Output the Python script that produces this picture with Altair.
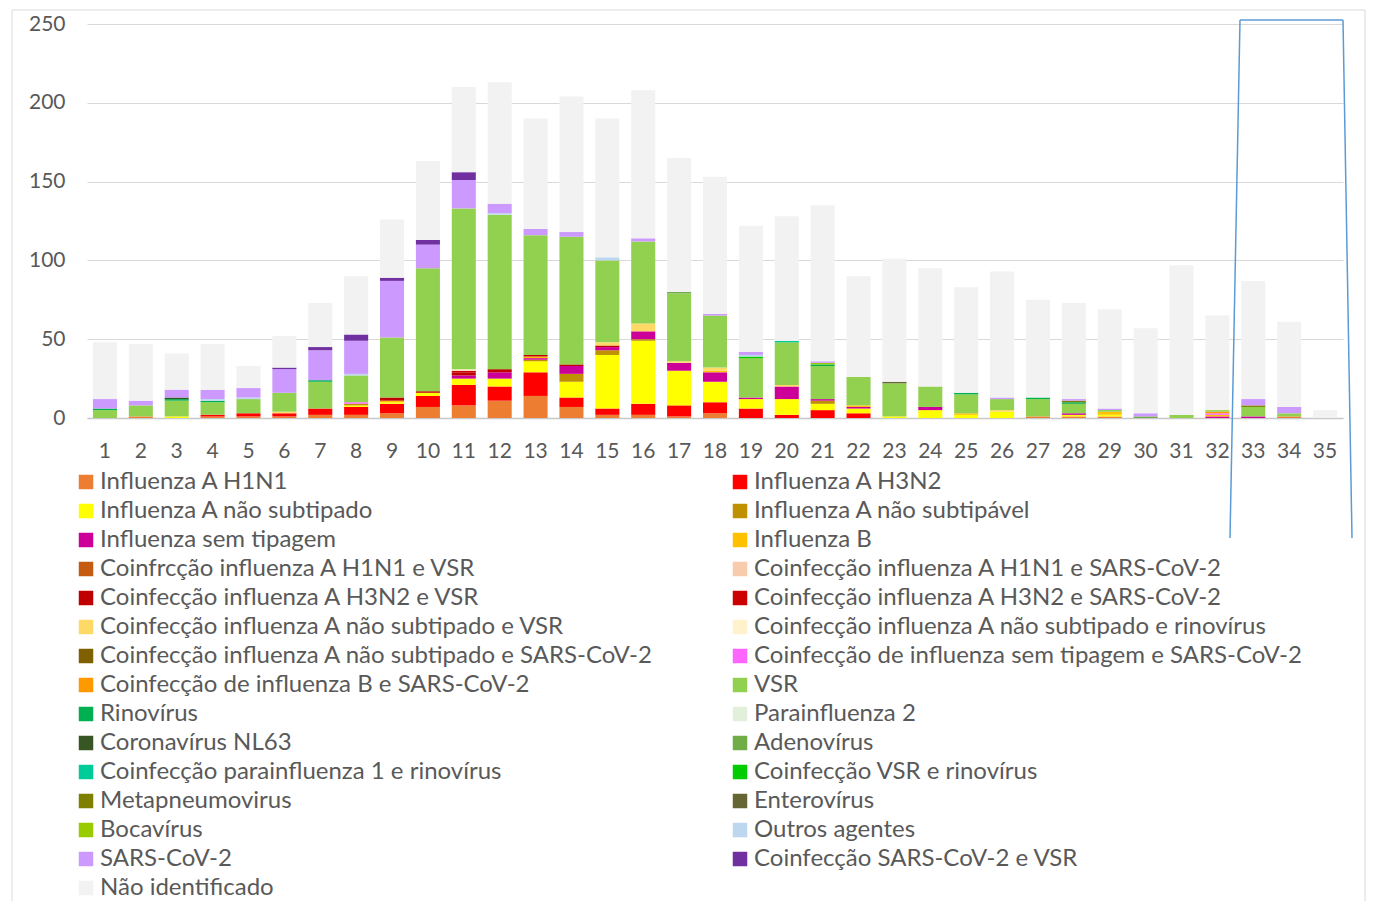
import altair as alt
import pandas as pd

weeks = [str(i) for i in range(1, 36)]

series_names = [
    "Influenza A H1N1",
    "Influenza A H3N2",
    "Influenza A não subtipado",
    "Influenza A não subtipável",
    "Influenza sem tipagem",
    "Influenza B",
    "Coinfrcção influenza A H1N1 e VSR",
    "Coinfecção influenza A H1N1 e SARS-CoV-2",
    "Coinfecção influenza A H3N2 e VSR",
    "Coinfecção influenza A H3N2 e SARS-CoV-2",
    "Coinfecção influenza A não subtipado e VSR",
    "Coinfecção influenza A não subtipado e rinovírus",
    "Coinfecção influenza A não subtipado e SARS-CoV-2",
    "Coinfecção de influenza sem tipagem e SARS-CoV-2",
    "Coinfecção de influenza B e SARS-CoV-2",
    "VSR",
    "Rinovírus",
    "Parainfluenza 2",
    "Coronavírus NL63",
    "Adenovírus",
    "Coinfecção parainfluenza 1 e rinovírus",
    "Coinfecção VSR e rinovírus",
    "Metapneumovirus",
    "Enterovírus",
    "Bocavírus",
    "Outros agentes",
    "SARS-CoV-2",
    "Coinfecção SARS-CoV-2 e VSR",
    "Não identificado",
]

series_colors = [
    "#ED7D31", "#FF0000", "#FFFF00", "#BF9000", "#CC0099", "#FFC000",
    "#C55A11", "#F8CBAD", "#C00000", "#CC0000", "#FFD966", "#FFF2CC",
    "#7F6000", "#FF66FF", "#FF9900", "#92D050", "#00B050", "#E2EFDA",
    "#375623", "#70AD47", "#00CC99", "#00CC00", "#808000", "#666633",
    "#99CC00", "#BDD7EE", "#CC99FF", "#7030A0", "#F2F2F2",
]

h1n1 =          [0,1,0,1,1,1,2,2,3,7,8,11,14,7,2,2,1,3,0,0,0,0,0,0,0,0,1,1,1,0,0,0,0,1,0]
h3n2 =          [0,0,0,1,2,2,4,5,6,7,13,9,15,6,4,7,7,7,6,2,5,3,0,0,0,0,0,0,0,0,0,0,0,0,0]
a_nao_sub =     [0,0,1,0,0,0,0,1,1,2,4,5,7,10,34,40,22,13,6,10,4,3,1,5,2,4,0,1,1,0,0,0,0,0,0]
a_nao_subtip =  [0,0,0,0,0,0,0,1,0,0,0,0,1,5,3,1,0,0,0,0,2,0,0,0,0,0,0,0,0,0,0,0,0,0,0]
sem_tipagem =   [0,0,0,0,0,0,0,0,0,0,2,4,1,5,2,5,5,6,1,8,1,1,0,2,0,0,0,1,0,0,0,1,1,0,0]
flu_b =         [0,0,0,0,0,0,0,0,1,0,0,0,1,0,0,0,0,1,0,0,0,1,0,0,1,0,0,0,2,0,0,1,0,0,0]
co_h1n1_vsr =   [0]*35
co_h1n1_sars =  [0]*35
co_h3n2_vsr =   [0,0,0,0,0,0,0,0,2,1,2,2,1,1,1,0,0,0,0,0,0,0,0,0,0,0,0,0,0,0,0,0,0,0,0]
co_h3n2_sars =  [0,0,0,0,0,0,0,0,0,0,1,0,0,0,0,0,0,0,0,0,0,0,0,0,0,0,0,0,0,0,0,0,0,0,0]
co_ns_vsr =     [0,0,0,0,0,1,0,0,0,0,0,0,0,0,2,5,1,2,0,1,0,0,0,0,0,1,0,0,0,0,0,0,0,0,0]
co_ns_rino =    [0,0,0,0,0,0,0,0,0,0,1,0,0,0,0,0,0,0,0,0,0,0,0,0,0,0,0,0,0,0,0,0,0,0,0]
co_ns_sars =    [0]*35
co_st_sars =    [0,0,0,0,0,0,0,1,0,0,0,0,0,0,0,0,0,0,0,0,0,0,0,0,0,0,0,0,0,0,0,1,0,0,0]
co_b_sars =     [0,0,0,0,0,0,0,0,0,0,0,0,0,0,0,0,0,0,0,0,0,0,0,0,0,0,0,0,0,0,0,1,0,0,0]
vsr =           [5,7,10,8,9,12,17,17,38,78,102,98,76,81,52,52,43,33,25,27,21,18,21,13,12,7,11,6,1,0,2,1,6,2,0]
rino =          [1,0,1,1,0,0,1,0,0,0,0,0,0,0,0,0,0,0,0,0,1,0,0,0,1,0,1,1,0,0,0,0,0,0,0]
para2 =         [0]*35
nl63 =          [0,0,1,0,0,0,0,0,0,0,0,0,0,0,0,0,0,0,0,0,0,0,0,0,0,0,0,0,0,0,0,0,0,0,0]
adeno =         [0,0,0,0,0,0,0,0,0,0,0,0,0,0,0,0,1,0,0,0,0,0,0,0,0,0,0,0,0,1,0,0,0,0,0]
co_p1_rino =    [0,0,0,0,0,0,0,0,0,0,0,0,0,0,0,0,0,0,0,1,0,0,0,0,0,0,0,0,0,0,0,0,0,0,0]
co_vsr_rino =   [0,0,0,0,0,0,0,0,0,0,0,0,0,0,0,0,0,0,1,0,0,0,0,0,0,0,0,0,0,0,0,0,0,0,0]
metapneumo =    [0,0,0,0,0,0,0,0,0,0,0,0,0,0,0,0,0,0,0,0,0,0,0,0,0,0,0,1,0,0,0,0,1,0,0]
entero =        [0,0,0,0,0,0,0,0,0,0,0,0,0,0,0,0,0,0,0,0,0,0,1,0,0,0,0,0,0,0,0,0,0,0,0]
boca =          [0,0,0,0,0,0,0,0,0,0,0,0,0,0,0,0,0,0,0,0,1,0,0,0,0,0,0,0,0,0,0,0,0,0,0]
outros =        [0,0,0,1,1,0,0,1,0,0,0,1,0,0,2,0,0,0,1,0,0,0,0,0,0,0,0,0,0,0,0,0,0,0,0]
sars =          [6,3,5,6,6,15,19,21,36,15,18,6,4,3,0,2,0,1,2,0,1,0,0,0,0,1,0,1,1,2,0,0,4,4,0]
sars_vsr =      [0,0,0,0,0,1,2,4,2,3,5,0,0,0,0,0,0,0,0,0,0,0,0,0,0,0,0,0,0,0,0,0,0,0,0]
nao_ident =     [36,36,23,29,14,20,28,37,37,50,54,77,70,86,88,94,85,87,80,79,99,64,78,75,67,80,62,61,63,54,95,60,75,54,5]

series_values = [
    h1n1, h3n2, a_nao_sub, a_nao_subtip, sem_tipagem, flu_b, co_h1n1_vsr,
    co_h1n1_sars, co_h3n2_vsr, co_h3n2_sars, co_ns_vsr, co_ns_rino, co_ns_sars,
    co_st_sars, co_b_sars, vsr, rino, para2, nl63, adeno, co_p1_rino,
    co_vsr_rino, metapneumo, entero, boca, outros, sars, sars_vsr, nao_ident,
]

y_ticks = [0, 50, 100, 150, 200, 250]

rows = []
for idx, (name, vals) in enumerate(zip(series_names, series_values)):
    for w, v in zip(weeks, vals):
        if v > 0:
            rows.append({"semana": w, "agente": name, "casos": v, "ordem": idx})
df = pd.DataFrame(rows)

# legend is filled column by column: put even entries first (left column), odd after
legend_order = series_names[0::2] + series_names[1::2]
color_of = dict(zip(series_names, series_colors))
legend_colors = [color_of[n] for n in legend_order]

FONT = "Lato"
TXT = "#595959"

bars = alt.Chart(df).mark_bar().encode(
    x=alt.X(
        "semana:O",
        sort=weeks,
        scale=alt.Scale(paddingInner=0.33, paddingOuter=0.165),
        axis=alt.Axis(
            title=None, labelAngle=0, ticks=False, labelFont=FONT,
            labelFontSize=21, labelColor=TXT, labelPadding=22,
            domainColor="#C8C8C8", domainWidth=1.5,
        ),
    ),
    y=alt.Y(
        "casos:Q",
        stack="zero",
        scale=alt.Scale(domain=[0, 250], nice=False),
        axis=alt.Axis(
            title=None, values=y_ticks, ticks=False, domain=False,
            labelFont=FONT, labelFontSize=21, labelColor=TXT, labelPadding=22,
            gridColor="#D9D9D9", gridWidth=1,
        ),
    ),
    color=alt.Color(
        "agente:N",
        scale=alt.Scale(domain=legend_order, range=legend_colors),
        legend=alt.Legend(
            title=None, orient="none", legendX=-13, legendY=446, columns=2,
            symbolType="square", symbolSize=210, symbolStrokeWidth=0,
            labelFont=FONT, labelFontSize=24, labelColor=TXT, labelLimit=0,
            labelOffset=2, rowPadding=5, columnPadding=74, padding=0,
        ),
    ),
    order=alt.Order("ordem:Q", sort="ascending"),
)

one = pd.DataFrame({"k": [0]})

border = alt.Chart(one).mark_rect(
    fillOpacity=0, stroke="#D9D9D9", strokeWidth=1
).encode(
    x=alt.value(-75), x2=alt.value(1278), y=alt.value(-14), y2=alt.value(884)
)

blue = "#5B9BD5"
left_line = alt.Chart(one).mark_rule(color=blue, strokeWidth=1.5).encode(
    x=alt.value(1153), x2=alt.value(1143), y=alt.value(-4), y2=alt.value(514)
)
top_line = alt.Chart(one).mark_rule(color=blue, strokeWidth=1.5).encode(
    x=alt.value(1153), x2=alt.value(1256), y=alt.value(-4), y2=alt.value(-4)
)
right_line = alt.Chart(one).mark_rule(color=blue, strokeWidth=1.5).encode(
    x=alt.value(1256), x2=alt.value(1265), y=alt.value(-4), y2=alt.value(514)
)

chart = alt.layer(border, bars, left_line, top_line, right_line).properties(
    width=1256,
    height=394,
    autosize=alt.AutoSizeParams(type="none"),
    padding={"left": 79, "top": 16, "right": 23, "bottom": 483},
    background="white",
).configure_view(stroke=None)

chart.save("out.html", embed_options={"renderer": "svg", "actions": False})
